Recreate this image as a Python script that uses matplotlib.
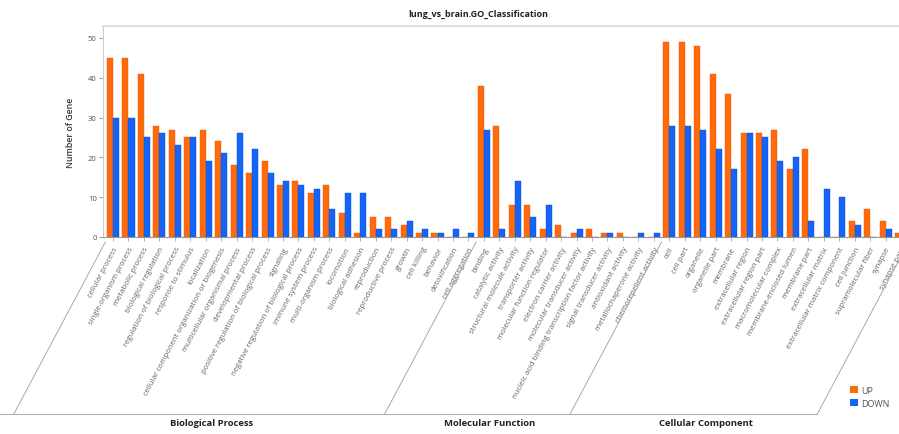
import matplotlib
matplotlib.use("Agg")
import matplotlib.pyplot as plt
from matplotlib.patches import Patch
from matplotlib.lines import Line2D
import numpy as np

plt.rcParams["font.family"] = ["Open Sans", "DejaVu Sans"]

bp_terms = ["cellular process", "single-organism process", "metabolic process",
            "biological regulation", "regulation of biological process",
            "response to stimulus", "localization",
            "cellular component organization or biogenesis",
            "multicellular organismal process", "developmental process",
            "positive regulation of biological process", "signaling",
            "negative regulation of biological process", "immune system process",
            "multi-organism process", "locomotion", "biological adhesion",
            "reproduction", "reproductive process", "growth", "cell killing",
            "behavior", "detoxification", "cell aggregation"]
bp_up = [45, 45, 41, 28, 27, 25, 27, 24, 18, 16, 19, 13, 14, 11, 13, 6, 1, 5, 5, 3, 1, 1, 0, 0]
bp_down = [30, 30, 25, 26, 23, 25, 19, 21, 26, 22, 16, 14, 13, 12, 7, 11, 11, 2, 2, 4, 2, 1, 2, 1]

mf_terms = ["binding", "catalytic activity", "structural molecule activity",
            "transporter activity", "molecular function regulator",
            "electron carrier activity", "molecular transducer activity",
            "nucleic acid binding transcription factor activity",
            "signal transducer activity", "antioxidant activity",
            "metallochaperone activity", "chemorepellent activity"]
mf_up = [38, 28, 8, 8, 2, 3, 1, 2, 1, 1, 0, 0]
mf_down = [27, 2, 14, 5, 8, 0, 2, 0, 1, 0, 1, 1]

cc_terms = ["cell", "cell part", "organelle", "organelle part", "membrane",
            "extracellular region", "extracellular region part",
            "macromolecular complex", "membrane-enclosed lumen", "membrane part",
            "extracellular matrix", "extracellular matrix component",
            "cell junction", "supramolecular fiber", "synapse", "synapse part"]
cc_up = [49, 49, 48, 41, 36, 26, 26, 27, 17, 22, 0, 0, 4, 7, 4, 1]
cc_down = [28, 28, 27, 22, 17, 26, 25, 19, 20, 4, 12, 10, 3, 0, 2, 2]

groups = ["Biological Process", "Molecular Function", "Cellular Component"]

terms = bp_terms + mf_terms + cc_terms
up = bp_up + mf_up + cc_up
down = bp_down + mf_down + cc_down
sizes = [len(bp_terms), len(mf_terms), len(cc_terms)]

up_color = "#ff6a0d"
down_color = "#1464f6"

W, H = 899, 435
fig = plt.figure(figsize=(W / 100, H / 100), dpi=100)
ax = fig.add_axes([103 / W, 1 - 238 / H, (W - 103) / W + 0.01, (238 - 27) / H])

x = np.arange(len(terms))
bw = 0.39
ax.bar(x - bw / 2, up, bw, color=up_color, edgecolor="#e85a00", linewidth=0.3)
ax.bar(x + bw / 2, down, bw, color=down_color, edgecolor="#0a50d0", linewidth=0.3)

ax.set_xlim(-0.65, len(terms) - 0.55)
ax.set_ylim(0, 53)
ax.set_yticks([0, 10, 20, 30, 40, 50])
ax.tick_params(axis="y", labelsize=5.5, labelcolor="#555555", color="#888888",
               length=3, width=0.6, pad=1.5)
ax.set_xticks(x)
ax.set_xticklabels(terms, rotation=62, ha="right", va="top",
                   rotation_mode="anchor", fontsize=5.6, color="#666666")
ax.tick_params(axis="x", color="#999999", length=3, width=0.5, pad=3)
for side in ["right"]:
    ax.spines[side].set_visible(False)
ax.spines["top"].set_color("#d8d8d8")
ax.spines["top"].set_linewidth(1.2)
ax.spines["left"].set_color("#cccccc")
ax.spines["left"].set_linewidth(0.8)
ax.spines["bottom"].set_color("#999999")
ax.spines["bottom"].set_linewidth(0.8)

ax.set_ylabel("Number of Gene", fontsize=6.3, fontweight="semibold",
              color="#333333", labelpad=9)

# slanted group frames below the tick labels
fig.canvas.draw()
slope = 1 / np.tan(np.radians(62))
y_top = 243
y_bot = 415
edges = np.cumsum([0] + sizes) - 0.5
tops = [ax.transData.transform((e, 0))[0] for e in edges]
bots = [t - (y_bot - y_top) * slope for t in tops]

def px(xp, yp):
    return xp / W, 1 - yp / H

for t, b in zip(tops, bots):
    (x0, y0), (x1, y1) = px(t, y_top), px(b, y_bot)
    fig.add_artist(Line2D([x0, x1], [y0, y1], color="#aaaaaa", lw=0.7))
xa, ya = px(0, y_bot)
xb, yb = px(bots[-1], y_bot)
fig.add_artist(Line2D([xa, xb], [ya, yb], color="#aaaaaa", lw=0.7))

for i, g in enumerate(groups):
    cx = (bots[i] + bots[i + 1]) / 2 + 12
    gx, gy = px(cx, 424)
    fig.text(gx, gy, g, ha="center", va="center", fontsize=6.8,
             fontweight="bold", color="#222222")

fig.text(478 / W, 1 - 14 / H, "lung_vs_brain.GO_Classification", ha="center",
         va="center", fontsize=6.5, fontweight="bold", color="#222222")

handles = [Patch(facecolor=up_color, label="UP"),
           Patch(facecolor=down_color, label="DOWN")]
fig.legend(handles=handles, loc="upper left", bbox_to_anchor=(845 / W, 1 - 382 / H),
           frameon=False, fontsize=6.5, labelcolor="#555555", handlelength=0.9,
           handleheight=0.9, handletextpad=0.4, labelspacing=0.45, borderpad=0)

fig.savefig("out.png", dpi=100)
